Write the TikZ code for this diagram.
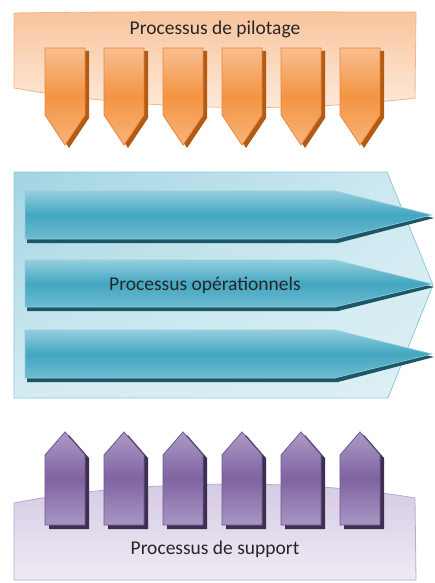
\documentclass[tikz,border=0pt]{standalone}
\usepackage{fontspec}
\setmainfont{Carlito}
\usetikzlibrary{shadings}
\definecolor{txt}{HTML}{262626}
\definecolor{orTop}{HTML}{F9BE90}
\definecolor{orMid}{HTML}{F39443}
\definecolor{orBot}{HTML}{F8B47C}
\definecolor{orLine}{HTML}{E8873A}
\definecolor{orShadow}{HTML}{B35A14}
\definecolor{orBanTop}{HTML}{F8C49C}
\definecolor{orBanBot}{HTML}{FDEBDD}
\definecolor{orBanLine}{HTML}{F5B482}
\definecolor{blTop}{HTML}{93CEDE}
\definecolor{blMid}{HTML}{44A6C1}
\definecolor{blBot}{HTML}{6DBBD0}
\definecolor{blShadow}{HTML}{1D5666}
\definecolor{blBoxA}{HTML}{A2D4E2}
\definecolor{blBoxB}{HTML}{DDF0F5}
\definecolor{blBoxLine}{HTML}{8FCADB}
\definecolor{puTop}{HTML}{AB9BC6}
\definecolor{puMid}{HTML}{7F63A1}
\definecolor{puBot}{HTML}{A897C4}
\definecolor{puLine}{HTML}{6E5892}
\definecolor{puShadow}{HTML}{3E2F52}
\definecolor{puBanTop}{HTML}{D3C8E2}
\definecolor{puBanBot}{HTML}{EFEBF5}
\definecolor{puBanLine}{HTML}{B9ABCE}
\tikzset{
  lbl/.style={text=txt, font=\fontsize{19.5}{22}\selectfont, inner sep=0pt},
  ortab/.style={top color=orTop, bottom color=orBot, middle color=orMid, draw=orLine, line width=0.8pt},
  putab/.style={top color=puTop, bottom color=puBot, middle color=puMid, draw=puLine, line width=0.8pt},
  blarrow/.style={top color=blTop, bottom color=blBot, middle color=blMid, draw=blTop, line width=0.6pt},
}
\begin{document}
\begin{tikzpicture}[x=1pt,y=-1pt]
\useasboundingbox (0,0) rectangle (434,583);
\fill[white] (0,0) rectangle (434,583);
% ---- top banner
\shade[top color=orBanTop, bottom color=orBanBot, draw=orBanLine, line width=0.8pt]
  (14,13) .. controls (150,11) and (300,12) .. (416,12)
  -- (415,98) .. controls (300,112) and (150,112) .. (14,88) -- cycle;
\node[lbl] (ptext) at (215,29) {Processus de pilotage};
\foreach \i in {0,...,5}{
  \pgfmathsetmacro{\xa}{45+59*\i}
  \fill[orShadow] ({\xa+4},51) -- ({\xa+44},51) -- ({\xa+44},118) -- ({\xa+24},148) -- ({\xa+4},118) -- cycle;
  \shade[ortab] (\xa,48) -- ({\xa+40},48) -- ({\xa+40},115) -- ({\xa+20},145) -- (\xa,115) -- cycle;
}
% ---- middle block
\shade[upper left=blBoxA, upper right=blBoxB!80!blBoxA, lower left=blBoxB!85!blBoxA, lower right=blBoxB, draw=blBoxLine, line width=0.8pt]
  (14,172) -- (387,172) -- (433,285) -- (388,398) -- (14,398) -- cycle;
\foreach \t/\b/\m in {191/239/215, 260/307/284, 330/378/354}{
  \fill[blShadow] (27,{\t+4}) -- (337,{\t+4}) -- (434,{\m+3}) -- (338,{\b+4}) -- (27,{\b+4}) -- cycle;
  \shade[blarrow] (25,\t) -- (335,\t) -- (432,\m) -- (335,\b) -- (25,\b) -- cycle;
}
\node[lbl] (otext) at (205,285) {Processus opérationnels};
% ---- bottom banner
\shade[top color=puBanTop, bottom color=puBanBot, draw=puBanLine, line width=0.8pt]
  (14,503) .. controls (120,482) and (290,476) .. (415,498)
  -- (416,580) -- (14,580) -- cycle;
\node[lbl] (stext) at (215,549) {Processus de support};
\foreach \i in {0,...,5}{
  \pgfmathsetmacro{\xa}{45+59*\i}
  \fill[puShadow] ({\xa+4},458) -- ({\xa+24},435) -- ({\xa+44},458) -- ({\xa+44},529) -- ({\xa+4},529) -- cycle;
  \shade[putab] (\xa,455) -- ({\xa+20},432) -- ({\xa+40},455) -- ({\xa+40},525) -- (\xa,525) -- cycle;
}
\end{tikzpicture}
\end{document}
